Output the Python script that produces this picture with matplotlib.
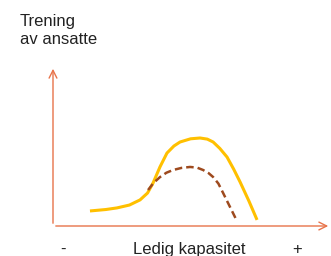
import matplotlib.pyplot as plt

plt.rcParams['font.family'] = ['Liberation Sans', 'DejaVu Sans']

# hovedkurve (gul) - ledig kapasitet vs trening
cap_main = [1.33, 1.9, 2.3, 2.75, 3.13, 3.4, 3.6, 3.85, 4.1, 4.35, 4.57, 4.95, 5.29, 5.55, 5.76, 6.0, 6.26, 6.5, 6.73, 7.05, 7.34]
tren_main = [0.94, 1.03, 1.13, 1.31, 1.63, 2.06, 2.69, 3.7, 4.56, 5.0, 5.25, 5.45, 5.5, 5.43, 5.25, 4.85, 4.31, 3.55, 2.75, 1.55, 0.38]

# stiplet kurve (brun)
cap_dash = [3.42, 3.62, 3.85, 4.08, 4.32, 4.62, 4.93, 5.18, 5.40, 5.6, 5.76, 5.95, 6.12, 6.35, 6.58]
tren_dash = [2.25, 2.7, 3.06, 3.33, 3.5, 3.63, 3.69, 3.65, 3.5, 3.3, 3.06, 2.65, 2.06, 1.25, 0.44]

fig = plt.figure(figsize=(3.31, 2.56), dpi=100)
ax = fig.add_axes([53 / 331, 30 / 256, 278 / 331, 160 / 256])
ax.set_xlim(0, 10)
ax.set_ylim(0, 10)
ax.axis('off')

axis_col = '#E8734A'
ax.annotate('', xy=(1.0, 0), xytext=(0, 0), xycoords='axes fraction',
            arrowprops=dict(arrowstyle='->', color=axis_col, lw=1.0, mutation_scale=14))
ax.annotate('', xy=(0, 1.0), xytext=(0, 0), xycoords='axes fraction',
            arrowprops=dict(arrowstyle='->', color=axis_col, lw=1.0, mutation_scale=14))

ax.plot(cap_main, tren_main, color='#FFC000', lw=2.2, solid_capstyle='butt')
ax.plot(cap_dash, tren_dash, color='#9E4A1E', lw=1.8, ls=(0, (3, 1.6)))

txt_col = '#222222'
fs = 12
fig.text(20 / 331, 1 - 26 / 256, 'Trening', fontsize=fs, va='baseline', ha='left', color=txt_col)
fig.text(20 / 331, 1 - 44 / 256, 'av ansatte', fontsize=fs, va='baseline', ha='left', color=txt_col)
fig.text(63 / 331, 1 - 254 / 256, '-', fontsize=fs, ha='center', va='baseline', color=txt_col)
fig.text(189 / 331, 1 - 254 / 256, 'Ledig kapasitet', fontsize=fs, ha='center', va='baseline', color=txt_col)
fig.text(297 / 331, 1 - 254 / 256, '+', fontsize=fs, ha='center', va='baseline', color=txt_col)

fig.savefig('out.png', dpi=100)
